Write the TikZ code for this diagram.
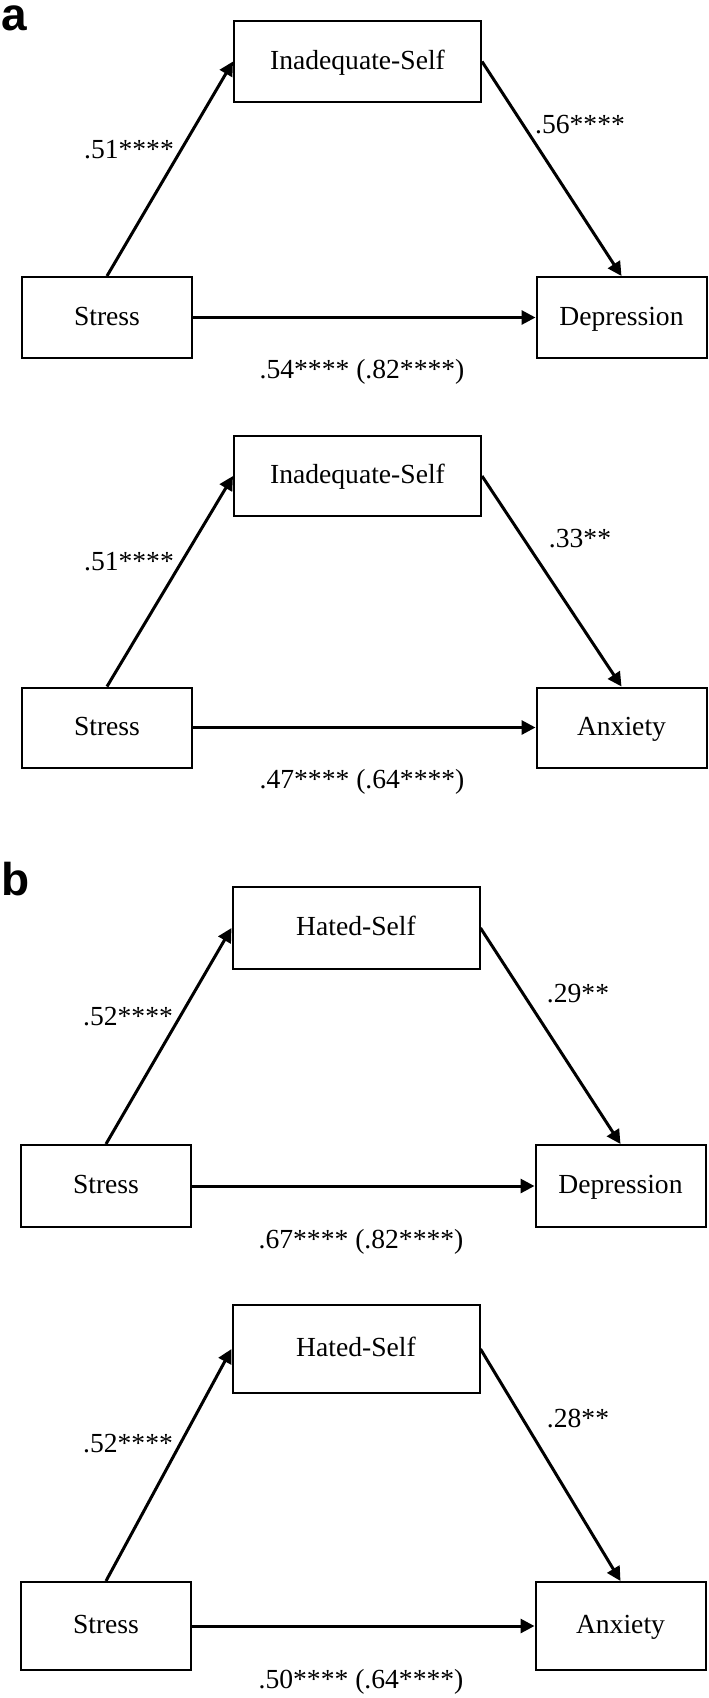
\documentclass[tikz,border=0pt]{standalone}
\usepackage{fontspec}
\setmainfont{Liberation Serif}
\newfontfamily\panelfont{Liberation Sans}
\usetikzlibrary{arrows.meta}
\newcommand{\varfont}{\fontsize{13.8pt}{16pt}\selectfont}

\tikzset{
  var/.style={draw, line width=1pt, inner sep=0pt, text height=0.75em, text depth=0pt, font=\varfont},
  medvar/.style={var, minimum width=123.5pt},
  endvar/.style={var, minimum width=85pt},
  effect/.style={line width=1.5pt, -{Triangle[length=7pt,width=7pt]}},
  coef/.style={anchor=base, inner sep=0pt, font=\varfont},
  panel/.style={anchor=base west, inner sep=0pt, font=\panelfont\bfseries\fontsize{23pt}{23pt}\selectfont}
}

\begin{document}
\begin{tikzpicture}[x=0.5pt, y=-0.5pt]
    \useasboundingbox (0,0) rectangle (708,1698);

    % panel a: inadequate-self -> depression
    \node[panel] (labA) at (1,30) {a};
    \node[medvar, minimum height=40.5pt] (inadDep) at (357.5,61.5) {Inadequate-Self};
    \node[endvar, minimum height=40.5pt] (stressDep) at (107,317.5) {Stress};
    \node[endvar, minimum height=40.5pt] (dep) at (621.5,317.5) {Depression};
    \draw[effect] (stressDep.north) -- (inadDep.west);
    \draw[effect] (inadDep.east) -- (dep.north);
    \draw[effect] (stressDep.east) -- (dep.west);
    \node[coef] (aInadDep) at (129,158) {.51****};
    \node[coef] (bInadDep) at (580,133) {.56****};
    \node[coef] (cInadDep) at (362,378) {.54**** (.82****)};

    % panel a: inadequate-self -> anxiety
    \node[medvar, minimum height=40pt] (inadAnx) at (357.5,476) {Inadequate-Self};
    \node[endvar, minimum height=40pt] (stressAnx) at (107,727.5) {Stress};
    \node[endvar, minimum height=40pt] (anx) at (621.5,727.5) {Anxiety};
    \draw[effect] (stressAnx.north) -- (inadAnx.west);
    \draw[effect] (inadAnx.east) -- (anx.north);
    \draw[effect] (stressAnx.east) -- (anx.west);
    \node[coef] (aInadAnx) at (129,570) {.51****};
    \node[coef] (bInadAnx) at (580,547) {.33**};
    \node[coef] (cInadAnx) at (362,788) {.47**** (.64****)};

    % panel b: hated-self -> depression
    \node[panel] (labB) at (1,895) {b};
    \node[medvar, minimum height=41pt] (hatDep) at (356,928) {Hated-Self};
    \node[endvar, minimum height=41pt] (stressHDep) at (106,1186) {Stress};
    \node[endvar, minimum height=41pt] (hdep) at (620.5,1186) {Depression};
    \draw[effect] (stressHDep.north) -- (hatDep.west);
    \draw[effect] (hatDep.east) -- (hdep.north);
    \draw[effect] (stressHDep.east) -- (hdep.west);
    \node[coef] (aHatDep) at (128,1025) {.52****};
    \node[coef] (bHatDep) at (578,1002) {.29**};
    \node[coef] (cHatDep) at (361,1248) {.67**** (.82****)};

    % panel b: hated-self -> anxiety
    \node[medvar, minimum height=44pt] (hatAnx) at (356,1349) {Hated-Self};
    \node[endvar, minimum height=44pt] (stressHAnx) at (106,1626) {Stress};
    \node[endvar, minimum height=44pt] (hanx) at (620.5,1626) {Anxiety};
    \draw[effect] (stressHAnx.north) -- (hatAnx.west);
    \draw[effect] (hatAnx.east) -- (hanx.north);
    \draw[effect] (stressHAnx.east) -- (hanx.west);
    \node[coef] (aHatAnx) at (128,1452) {.52****};
    \node[coef] (bHatAnx) at (578,1427) {.28**};
    \node[coef] (cHatAnx) at (361,1688) {.50**** (.64****)};
\end{tikzpicture}
\end{document}
